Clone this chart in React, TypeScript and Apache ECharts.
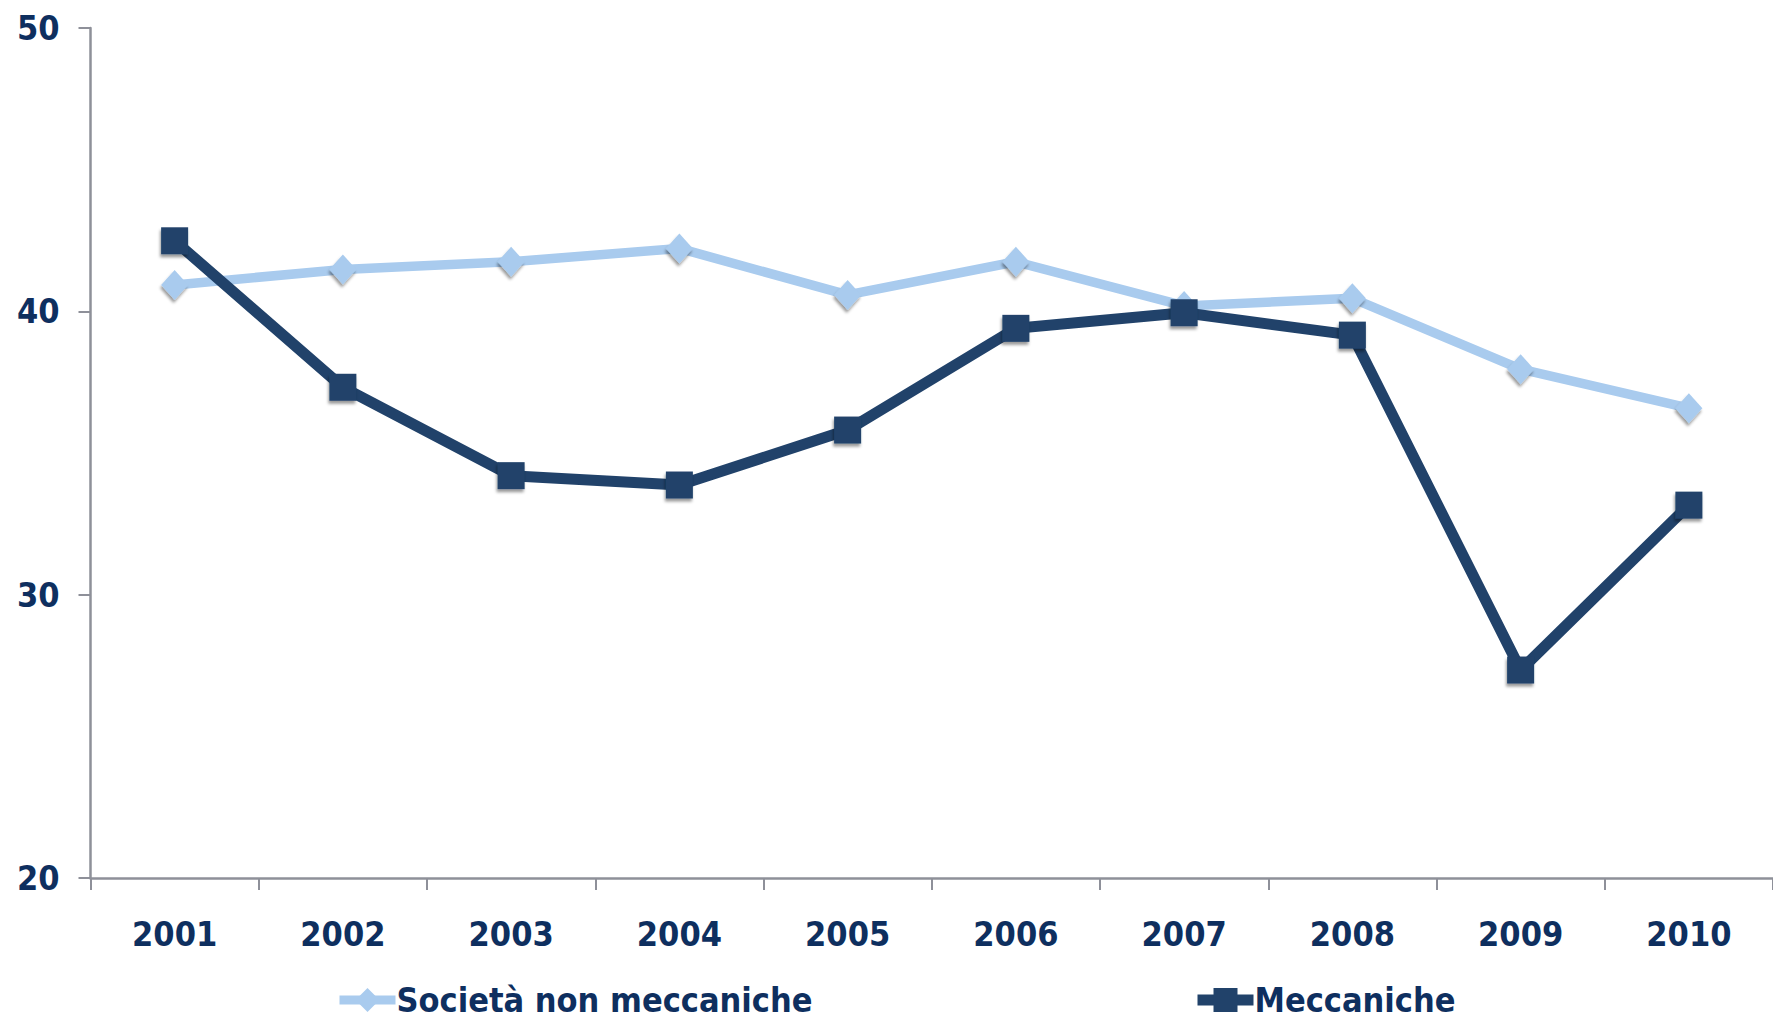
import React, { useEffect, useRef } from "react";
import * as echarts from "echarts";

const years = ["2001", "2002", "2003", "2004", "2005", "2006", "2007", "2008", "2009", "2010"];
const nonMeccaniche = [40.93, 41.48, 41.75, 42.22, 40.58, 41.75, 40.19, 40.46, 37.96, 36.58];
const meccaniche = [42.49, 37.32, 34.2, 33.87, 35.81, 39.4, 39.95, 39.16, 27.34, 33.16];
const seriesNames = ["Società non meccaniche", "Meccaniche"];

const FONT = "'Liberation Sans Narrow', 'DejaVu Sans Condensed', 'Arial Narrow', sans-serif";
const FS = 34;
const TEXT = "#0E2F5F";
const DARK = "#21426A";
const LIGHT = "#A9CBEE";
const AXIS = "#8E9099";

export default function App() {
  const ref = useRef<HTMLDivElement>(null);
  useEffect(() => {
    if (!ref.current) return;
    const chart = echarts.init(ref.current, null, { renderer: "svg" });
    const shadow = {
      shadowColor: "rgba(0,0,0,0.4)",
      shadowBlur: 3,
      shadowOffsetX: -1,
      shadowOffsetY: 3,
    };
    const legendBase = {
      top: 983,
      itemWidth: 56,
      itemHeight: 30,
      itemGap: 0,
      padding: 0,
      lineStyle: { width: 9 },
      textStyle: { fontFamily: FONT, fontWeight: "bold", fontSize: FS, color: TEXT, padding: [0, 0, 0, -4] },
    };
    chart.setOption({
      animation: false,
      backgroundColor: "#ffffff",
      grid: { left: 90.5, right: -4, top: 28, bottom: 142, containLabel: false },
      legend: [
        { ...legendBase, data: [seriesNames[0]], left: 335 },
        { ...legendBase, data: [seriesNames[1]], left: 1192, lineStyle: { width: 11 } },
      ],
      xAxis: {
        type: "category",
        data: years,
        boundaryGap: true,
        axisLine: { show: true, lineStyle: { color: AXIS, width: 2.5 } },
        axisTick: { show: true, length: 12, lineStyle: { color: AXIS, width: 2 } },
        axisLabel: {
          fontFamily: FONT,
          fontWeight: "bold",
          fontSize: FS,
          color: TEXT,
          margin: 39,
          interval: 0,
        },
        splitLine: { show: false },
      },
      yAxis: {
        type: "value",
        min: 20,
        max: 50,
        interval: 10,
        axisLine: { show: true, lineStyle: { color: AXIS, width: 2.5 } },
        axisTick: { show: true, length: 12, lineStyle: { color: AXIS, width: 2 } },
        axisLabel: {
          fontFamily: FONT,
          fontWeight: "bold",
          fontSize: FS,
          color: TEXT,
          margin: 31,
        },
        splitLine: { show: false },
      },
      series: [
        {
          name: seriesNames[0],
          type: "line",
          data: nonMeccaniche,
          symbol: "diamond",
          symbolSize: [27, 30],
          lineStyle: { color: LIGHT, width: 9.5 },
          itemStyle: { color: LIGHT, ...shadow },
          z: 2,
        },
        {
          name: seriesNames[1],
          type: "line",
          data: meccaniche,
          symbol: "rect",
          symbolSize: 27,
          lineStyle: { color: DARK, width: 11 },
          itemStyle: { color: DARK, ...shadow },
          z: 3,
        },
      ],
    });
    return () => chart.dispose();
  }, []);
  return (
    <div
      ref={ref}
      style={{ position: "absolute", left: 0, top: 0, width: 1773, height: 1020, background: "#fff" }}
    />
  );
}
